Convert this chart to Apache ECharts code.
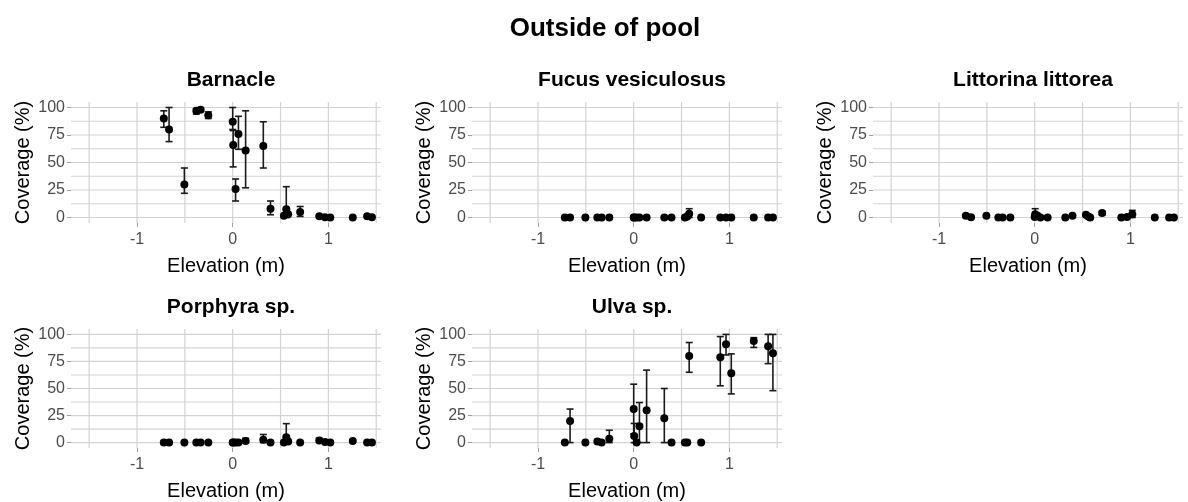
<!DOCTYPE html>
<html>
<head>
<meta charset="utf-8">
<script src="https://cdn.jsdelivr.net/npm/echarts@6/dist/echarts.min.js"></script>
<style>
html,body{margin:0;padding:0;background:#fff;}
#chart{width:1188px;height:502px;}
</style>
</head>
<body>
<div id="chart"></div>
<script>
// ---- data ----
const mainTitle = 'Outside of pool';
const species = ['Barnacle', 'Fucus vesiculosus', 'Littorina littorea', 'Porphyra sp.', 'Ulva sp.'];
const xTitle = 'Elevation (m)';
const yTitle = 'Coverage (%)';
const xTicks = [-1, 0, 1];
const yTicks = [0, 25, 50, 75, 100];
const xGridLines = [-1.5, -1, -0.5, 0, 0.5, 1, 1.5];
const yGridLines = [0, 12.5, 25, 37.5, 50, 62.5, 75, 87.5, 100];

const elevation = [-0.72, -0.665, -0.505, -0.38, -0.335, -0.255, 0.0, 0.005, 0.03, 0.06, 0.135, 0.32, 0.395, 0.535, 0.56, 0.58, 0.705, 0.905, 0.965, 1.02, 1.255, 1.405, 1.455];

const barnacleMean = [90, 80, 30, 97, 98, 93, 87, 66, 26, 76, 61, 65, 8, 1.5, 7.5, 3, 5, 1.2, 0.3, 0, 0, 1.2, 0.3];
const barnacleLo   = [82, 69, 22, 94, 96.5, 90, 80, 46, 15, 62, 27, 45, 2.5, null, 0, null, 1, null, null, null, null, null, null];
const barnacleHi   = [97, 100, 45, 99, 99.5, 96, 100, 79, 35, 92, 97, 87, 15, null, 28, null, 10, null, null, null, null, null, null];

const fucusMean = [0, 0, 0, 0, 0, 0, 0, 0, 0, 0, 0, 0, 0, 0, 1, 3.5, 0, 0, 0, 0, 0, 0, 0];
const fucusLo   = [null, null, null, null, null, null, null, null, null, null, null, null, null, null, null, 0, null, null, null, null, null, null, null];
const fucusHi   = [null, null, null, null, null, null, null, null, null, null, null, null, null, null, null, 8, null, null, null, null, null, null, null];

const littorinaMean = [1.5, 0.3, 1.5, 0, 0, 0, 0.5, 3, 1.5, 0, 0, 0, 1.5, 2.5, 0.8, 0, 4, 0, 0.5, 3, 0, 0, 0];
const littorinaLo   = [null, null, null, null, null, null, null, 0, null, null, null, null, null, null, null, null, 2.5, null, null, 0, null, null, null];
const littorinaHi   = [null, null, null, null, null, null, null, 8, null, null, null, null, null, null, null, null, 5.5, null, null, 6.5, null, null, null];

const porphyraMean = [0, 0, 0, 0, 0, 0, 0, 0, 0, 0, 1.5, 2.7, 0, 0, 5, 1, 0, 2, 0.5, 0, 1.5, 0, 0];
const porphyraLo   = [null, null, null, null, null, null, null, null, null, null, 0, 0, null, null, 0, null, null, 0, null, null, null, null, null];
const porphyraHi   = [null, null, null, null, null, null, null, null, null, null, 4, 7.5, null, null, 17.5, null, null, 4, null, null, null, null, null];

const ulvaMean = [0, 20, 0, 1, 0, 3.6, 31, 6, 0, 15, 30, 22.5, 0, 0, 0, 80, 0, 79, 91, 64, 94, 89, 82.5];
const ulvaLo   = [null, 0, null, null, null, 0, 8, 0, null, 0, 0, 0, null, null, null, 65, null, 52.5, 81, 45, 88, 73, 48];
const ulvaHi   = [null, 31, null, null, null, 11.4, 54, 17.7, null, 37, 67, 50, null, null, null, 92.5, null, 98, 100, 82, 97, 100, 100];

const means = [barnacleMean, fucusMean, littorinaMean, porphyraMean, ulvaMean];
const los = [barnacleLo, fucusLo, littorinaLo, porphyraLo, ulvaLo];
const his = [barnacleHi, fucusHi, littorinaHi, porphyraHi, ulvaHi];

// ---- layout ----
const FONT = "'Liberation Sans', Arial, sans-serif";
const colLeft = [71, 472, 873];
const rowTop = [102, 329];
const gw = 310, gh = 121;

const grids = [], xAxes = [], yAxes = [], series = [], titles = [];
titles.push({
  text: mainTitle, left: 600, top: 11, textAlign: 'center',
  textStyle: {fontFamily: FONT, fontSize: 26, fontWeight: 'bold', color: '#000'}
});

species.forEach((name, i) => {
  const r = Math.floor(i / 3), c = i % 3;
  const left = colLeft[c], top = rowTop[r];
  grids.push({left: left, top: top, width: gw, height: gh, containLabel: false});
  titles.push({
    text: name, left: left + gw / 2, top: top - 37, textAlign: 'center',
    textStyle: {fontFamily: FONT, fontSize: 21, fontWeight: 'bold', color: '#000'}
  });
  xAxes.push({
    type: 'value', gridIndex: i, min: -1.69, max: 1.55, position: 'bottom',
    axisLine: {show: false, onZero: false},
    splitLine: {show: false},
    axisTick: {show: true, customValues: xTicks, length: 4, lineStyle: {color: '#a0a0a0', width: 1}},
    axisLabel: {customValues: xTicks, margin: 9, fontFamily: FONT, fontSize: 16, color: '#4d4d4d',
      formatter: v => String(v)},
    name: xTitle, nameLocation: 'middle', nameGap: 33,
    nameTextStyle: {fontFamily: FONT, fontSize: 20, color: '#000'}
  });
  yAxes.push({
    type: 'value', gridIndex: i, min: -5, max: 105, position: 'left',
    axisLine: {show: false, onZero: false},
    splitLine: {show: false},
    axisTick: {show: true, customValues: yTicks, length: 4, lineStyle: {color: '#a0a0a0', width: 1}},
    axisLabel: {customValues: yTicks, margin: 6, fontFamily: FONT, fontSize: 16, color: '#4d4d4d',
      formatter: v => String(v)},
    name: yTitle, nameLocation: 'middle', nameGap: 38, nameRotate: 90,
    nameTextStyle: {fontFamily: FONT, fontSize: 20, color: '#000'}
  });

  // grid lines
  series.push({
    type: 'custom', xAxisIndex: i, yAxisIndex: i, silent: true, z: 1,
    data: xGridLines.map(v => [v, 0]),
    renderItem: (params, api) => {
      const cs = params.coordSys;
      const x = api.coord([api.value(0), 0])[0];
      return {type: 'line', shape: {x1: x, y1: cs.y, x2: x, y2: cs.y + cs.height},
        style: {stroke: '#d3d3d3', lineWidth: 1.2}};
    }
  });
  series.push({
    type: 'custom', xAxisIndex: i, yAxisIndex: i, silent: true, z: 1,
    data: yGridLines.map(v => [0, v]),
    renderItem: (params, api) => {
      const cs = params.coordSys;
      const y = api.coord([0, api.value(1)])[1];
      return {type: 'line', shape: {x1: cs.x, y1: y, x2: cs.x + cs.width, y2: y},
        style: {stroke: '#d3d3d3', lineWidth: 1.2}};
    }
  });

  // error bars
  const errData = [];
  elevation.forEach((e, k) => {
    if (los[i][k] !== null && his[i][k] !== null) errData.push([e, los[i][k], his[i][k]]);
  });
  series.push({
    type: 'custom', xAxisIndex: i, yAxisIndex: i, silent: true, z: 3,
    data: errData,
    renderItem: (params, api) => {
      const x = api.value(0);
      const p1 = api.coord([x, api.value(2)]);
      const p0 = api.coord([x, api.value(1)]);
      const hw = 3.5;
      const st = {stroke: '#1a1a1a', lineWidth: 1.6};
      return {type: 'group', children: [
        {type: 'line', shape: {x1: p1[0], y1: p1[1], x2: p0[0], y2: p0[1]}, style: st},
        {type: 'line', shape: {x1: p1[0] - hw, y1: p1[1], x2: p1[0] + hw, y2: p1[1]}, style: st},
        {type: 'line', shape: {x1: p0[0] - hw, y1: p0[1], x2: p0[0] + hw, y2: p0[1]}, style: st}
      ]};
    }
  });

  // points
  series.push({
    type: 'scatter', xAxisIndex: i, yAxisIndex: i, z: 4, silent: true,
    symbol: 'circle', symbolSize: 8,
    itemStyle: {color: '#000', opacity: 1},
    data: elevation.map((e, k) => [e, means[i][k]])
  });
});

const chart = echarts.init(document.getElementById('chart'), null, {renderer: 'canvas'});
chart.setOption({
  animation: false,
  backgroundColor: '#ffffff',
  title: titles,
  grid: grids,
  xAxis: xAxes,
  yAxis: yAxes,
  series: series
});
</script>
</body>
</html>
